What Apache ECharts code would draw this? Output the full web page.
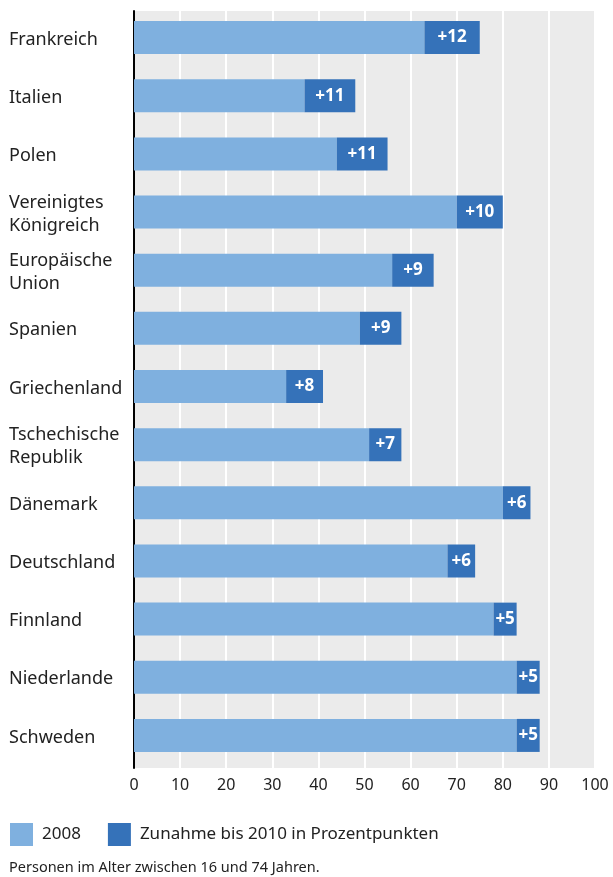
<!DOCTYPE html>
<html>
<head>
<meta charset="utf-8">
<script src="https://cdn.jsdelivr.net/npm/echarts@6/dist/echarts.min.js"></script>
<style>
html,body{margin:0;padding:0;background:#fff;}
#c{width:613px;height:877px;}
</style>
</head>
<body>
<div id="c"></div>
<script>
const categories = ["Frankreich","Italien","Polen","Vereinigtes\nKönigreich","Europäische\nUnion","Spanien","Griechenland","Tschechische\nRepublik","Dänemark","Deutschland","Finnland","Niederlande","Schweden"];
const values2008 = [63,37,44,70,56,49,33,51,80,68,78,83,83];
const increase2010 = [12,11,11,10,9,9,8,7,6,6,5,5,5];
const xTicks = [0,10,20,30,40,50,60,70,80,90,100];
const seriesNames = ["2008","Zunahme bis 2010 in Prozentpunkten"];
const footnote = "Personen im Alter zwischen 16 und 74 Jahren.";

const FONT = "Noto Sans";
const xMin = xTicks[0], xMax = xTicks[xTicks.length-1];
const chart = echarts.init(document.getElementById('c'));
chart.setOption({
  animation:false,
  textStyle:{fontFamily:FONT},
  grid:[
    {left:134,right:18,top:11,bottom:109,show:true,backgroundColor:'#ebebeb',borderWidth:0,containLabel:false},
    {left:134,right:18,top:8.5,bottom:112.5,show:false,containLabel:false},
    {left:134,right:18,top:10.5,bottom:110.5,show:false,containLabel:false}
  ],
  xAxis:[
    {gridIndex:0,type:'value',min:xMin,max:xMax,interval:10,
      axisLine:{show:false},axisTick:{show:false},
      axisLabel:{color:'#222',fontSize:16,margin:9,fontFamily:FONT},
      splitLine:{show:true,lineStyle:{color:'#ffffff',width:2}}},
    {gridIndex:1,type:'value',min:xMin,max:xMax,interval:10,show:false,splitLine:{show:false}},
    {gridIndex:2,type:'value',min:xMin,max:xMax,interval:10,show:false,splitLine:{show:false}}
  ],
  yAxis:[
    {gridIndex:0,type:'value',min:0,max:1,axisLabel:{show:false},axisTick:{show:false},splitLine:{show:false},
      axisLine:{show:true,lineStyle:{color:'#000',width:2}}},
    {gridIndex:1,type:'category',data:categories,inverse:true,
      axisLine:{show:false},axisTick:{show:false},axisLabel:{show:false},splitLine:{show:false}},
    {gridIndex:2,type:'category',data:categories,inverse:true,
      axisLine:{show:false},axisTick:{show:false},
      axisLabel:{align:'left',margin:125,color:'#222',fontSize:18,lineHeight:23,fontFamily:FONT},
      splitLine:{show:false}}
  ],
  legend:{left:10,top:823,padding:0,itemWidth:23,itemHeight:23,itemGap:27,icon:'rect',
    textStyle:{color:'#222',fontSize:17,fontFamily:FONT,padding:[0,0,0,4]},
    data:seriesNames},
  graphic:[{type:'text',left:9,top:860,style:{text:footnote,fill:'#222',fontSize:14.5,fontFamily:FONT}}],
  series:[
    {name:seriesNames[0],type:'bar',stack:'a',xAxisIndex:1,yAxisIndex:1,data:values2008,barWidth:33,itemStyle:{color:'#7fb0df'}},
    {name:seriesNames[1],type:'bar',stack:'a',xAxisIndex:1,yAxisIndex:1,data:increase2010,barWidth:33,itemStyle:{color:'#3572b9'},
      label:{show:true,position:'inside',formatter:'+{c}',color:'#fff',fontSize:17,fontWeight:'bold',fontFamily:FONT}}
  ]
});
</script>
</body>
</html>
